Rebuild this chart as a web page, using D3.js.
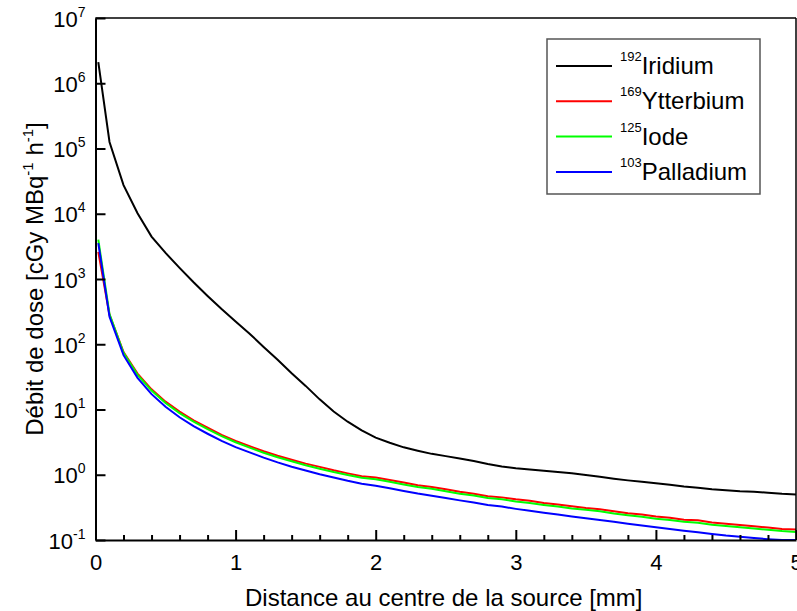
<!DOCTYPE html>
<html>
<head>
<meta charset="utf-8">
<script src="https://cdn.jsdelivr.net/npm/d3@7"></script>
<style>
  body { margin: 0; background: #fff; }
  text { font-family: Arial, "Liberation Sans", sans-serif; fill: #000; }
</style>
</head>
<body>
<svg id="chart" width="797" height="611"></svg>
<script>
// distances (mm)
const distances = [0.02, 0.1, 0.2, 0.3, 0.4, 0.5, 0.6, 0.7, 0.8, 0.9,
  1.0, 1.1, 1.2, 1.3, 1.4, 1.5, 1.6, 1.7, 1.8, 1.9,
  2.0, 2.1, 2.2, 2.3, 2.4, 2.5, 2.6, 2.7, 2.8, 2.9,
  3.0, 3.1, 3.2, 3.3, 3.4, 3.5, 3.6, 3.7, 3.8, 3.9,
  4.0, 4.1, 4.2, 4.3, 4.4, 4.5, 4.6, 4.7, 4.8, 4.9, 5.0];

const iridium = [2.1e6, 1.26e5, 2.75e4, 1.02e4, 4470, 2510, 1480, 890, 550, 347,
  224, 145, 91, 58, 36, 23, 14.3, 9.3, 6.5, 4.8,
  3.7, 3.1, 2.63, 2.34, 2.09, 1.93, 1.78, 1.62, 1.46, 1.34,
  1.26, 1.20, 1.15, 1.10, 1.05, 0.99, 0.93, 0.87, 0.82, 0.78,
  0.74, 0.70, 0.66, 0.63, 0.60, 0.58, 0.56, 0.55, 0.53, 0.51, 0.50];

const ytterbium = [2600, 282, 76, 35.5, 20.4, 13.2, 9.3, 6.8, 5.25, 4.07,
  3.31, 2.75, 2.29, 1.95, 1.70, 1.48, 1.32, 1.17, 1.05, 0.95,
  0.91, 0.83, 0.76, 0.69, 0.65, 0.60, 0.55, 0.51, 0.47, 0.45,
  0.42, 0.40, 0.37, 0.35, 0.33, 0.31, 0.295, 0.275, 0.257, 0.245,
  0.229, 0.219, 0.204, 0.200, 0.186, 0.178, 0.170, 0.162, 0.155, 0.148, 0.145];

const iode = [4000, 290, 74, 34, 19.5, 12.6, 8.8, 6.5, 5.0, 3.9,
  3.15, 2.6, 2.17, 1.85, 1.61, 1.40, 1.24, 1.10, 0.99, 0.90,
  0.85, 0.78, 0.71, 0.65, 0.61, 0.56, 0.51, 0.48, 0.44, 0.42,
  0.39, 0.37, 0.345, 0.325, 0.305, 0.29, 0.275, 0.255, 0.24, 0.227,
  0.212, 0.202, 0.19, 0.184, 0.172, 0.164, 0.157, 0.15, 0.143, 0.137, 0.133];

const palladium = [3550, 265, 68, 30.5, 17.2, 11.0, 7.6, 5.55, 4.25, 3.3,
  2.65, 2.2, 1.83, 1.55, 1.33, 1.16, 1.02, 0.91, 0.81, 0.73,
  0.68, 0.62, 0.565, 0.515, 0.475, 0.44, 0.405, 0.375, 0.345, 0.325,
  0.30, 0.28, 0.262, 0.245, 0.23, 0.215, 0.203, 0.19, 0.178, 0.167,
  0.157, 0.148, 0.139, 0.132, 0.124, 0.117, 0.112, 0.107, 0.103, 0.10, 0.10];

const seriesNames = ["Iridium", "Ytterbium", "Iode", "Palladium"];
const seriesMass = ["192", "169", "125", "103"];
const seriesColors = ["#000000", "#ff0000", "#00ff00", "#0000ff"];
const seriesValues = [iridium, ytterbium, iode, palladium];

const xTicks = [0, 1, 2, 3, 4, 5];
const xMinorTicks = d3.range(0, 5.01, 0.2).filter(v => Math.abs(v - Math.round(v)) > 1e-6);
const yExponents = [-1, 0, 1, 2, 3, 4, 5, 6, 7];

const margin = { top: 18, right: 1, bottom: 71, left: 95.5 };
const W = 797, H = 611;

const svg = d3.select("#chart");

const x = d3.scaleLinear().domain([0, 5]).range([margin.left, W - margin.right]);
const y = d3.scaleLog().domain([1e-1, 1e7]).range([H - margin.bottom, margin.top]);

// curves
const line = d3.line()
  .x((d, i) => x(distances[i]))
  .y(d => y(d));

const plot = svg.append("g").attr("id", "curves");
seriesValues.forEach((vals, k) => {
  plot.append("path")
    .datum(vals)
    .attr("fill", "none")
    .attr("stroke", seriesColors[k])
    .attr("stroke-width", 2)
    .attr("d", line);
});

// frame (top & right)
svg.append("line")
  .attr("x1", x(0)).attr("x2", x(5))
  .attr("y1", y(1e7)).attr("y2", y(1e7))
  .attr("stroke", "#000").attr("stroke-width", 1.5);
svg.append("line")
  .attr("x1", x(5)).attr("x2", x(5))
  .attr("y1", y(1e7)).attr("y2", y(1e-1))
  .attr("stroke", "#000").attr("stroke-width", 1.5);

// x axis
const xAxis = svg.append("g")
  .attr("transform", `translate(0,${y(1e-1)})`)
  .call(d3.axisBottom(x).tickValues(xTicks).tickSize(-10).tickSizeOuter(0).tickFormat(d3.format("d")));
xAxis.select(".domain").attr("stroke-width", 2);
xAxis.selectAll(".tick line").attr("stroke-width", 2);
xAxis.selectAll(".tick text")
  .attr("y", 14).attr("dy", "0.71em")
  .style("font-size", "22px");

svg.append("g")
  .attr("transform", `translate(0,${y(1e-1)})`)
  .call(d3.axisBottom(x).tickValues(xMinorTicks).tickSize(-5).tickSizeOuter(0).tickFormat(""))
  .call(g => g.select(".domain").remove())
  .selectAll(".tick line").attr("stroke-width", 2);

// y axis
const yAxis = svg.append("g")
  .attr("transform", `translate(${x(0)},0)`)
  .call(d3.axisLeft(y).tickValues(yExponents.map(e => Math.pow(10, e))).tickSize(-10).tickSizeOuter(0).tickFormat(""));
yAxis.select(".domain").attr("stroke-width", 2);
yAxis.selectAll(".tick line").attr("stroke-width", 2);
yAxis.selectAll(".tick").each(function (d) {
  const t = d3.select(this).append("text")
    .attr("x", -10).attr("y", 8)
    .attr("text-anchor", "end")
    .style("font-size", "22px");
  t.append("tspan").text("10");
  t.append("tspan").attr("dy", -10).style("font-size", "14px").text(Math.round(Math.log10(d)));
});

// axis titles
svg.append("text")
  .attr("x", (x(0) + x(5)) / 2 - 2)
  .attr("y", 606)
  .attr("text-anchor", "middle")
  .style("font-size", "24px")
  .text("Distance au centre de la source [mm]");

const yTitle = svg.append("text")
  .attr("transform", `translate(43,${(y(1e-1) + y(1e7)) / 2}) rotate(-90)`)
  .attr("text-anchor", "middle")
  .style("font-size", "24px");
yTitle.append("tspan").text("Débit de dose [cGy MBq");
yTitle.append("tspan").attr("dy", -10).style("font-size", "15px").text("-1");
yTitle.append("tspan").attr("dy", 10).text(" h");
yTitle.append("tspan").attr("dy", -10).style("font-size", "15px").text("-1");
yTitle.append("tspan").attr("dy", 10).text("]");

// legend
const legend = svg.append("g").attr("id", "legend");
legend.append("rect")
  .attr("x", 547).attr("y", 39)
  .attr("width", 213).attr("height", 155)
  .attr("fill", "#fff")
  .attr("stroke", "#555").attr("stroke-width", 1.5);

seriesNames.forEach((name, k) => {
  const ly = 66 + k * 35.3;
  legend.append("line")
    .attr("x1", 556).attr("x2", 612)
    .attr("y1", ly).attr("y2", ly)
    .attr("stroke", seriesColors[k]).attr("stroke-width", 2);
  const t = legend.append("text")
    .attr("x", 620).attr("y", ly - 5)
    .style("font-size", "13px");
  t.append("tspan").text(seriesMass[k]);
  t.append("tspan").attr("dy", 13).style("font-size", "24px").text(name);
});
</script>
</body>
</html>
